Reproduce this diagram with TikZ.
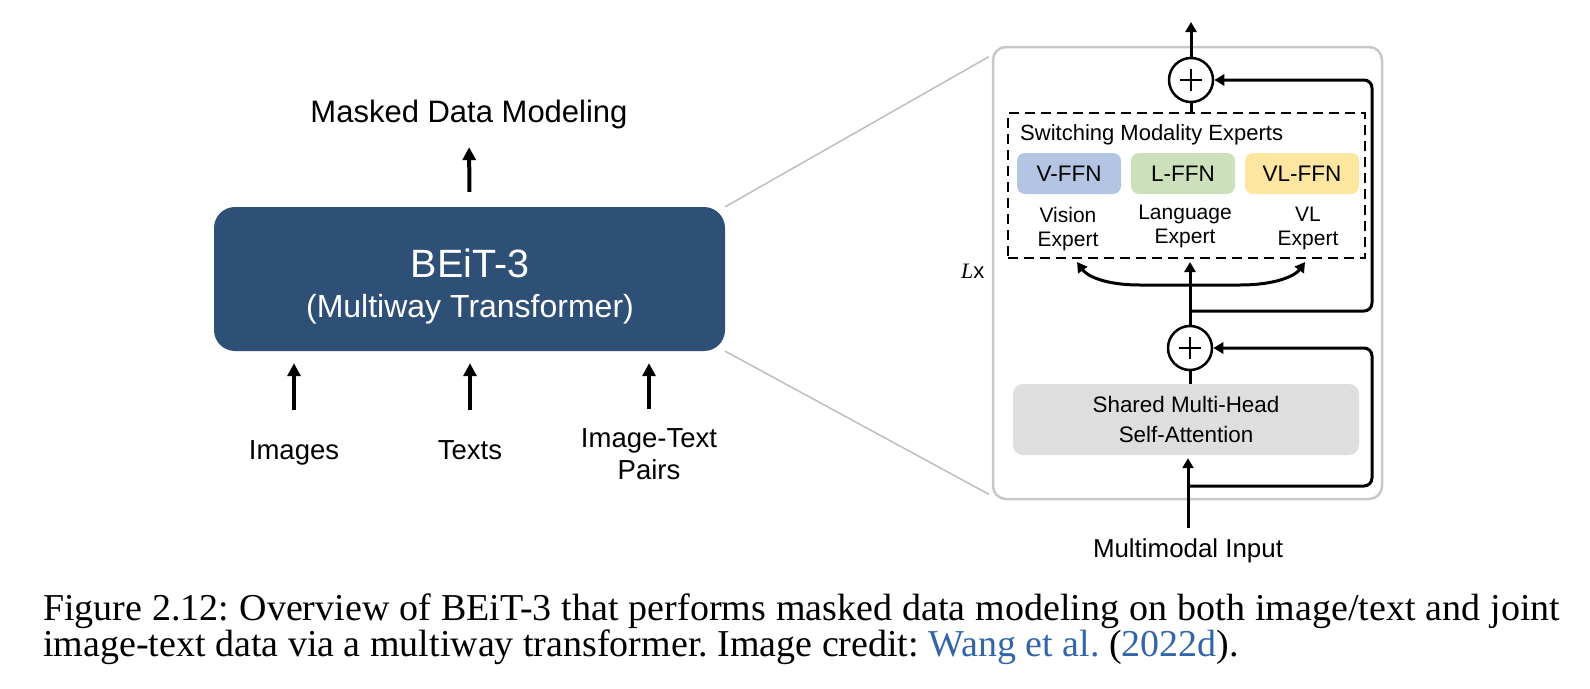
\documentclass[tikz,border=0pt]{standalone}
\usepackage{fontspec}
\setmainfont{Liberation Serif}
\newfontfamily\arialf{Liberation Sans}
\usetikzlibrary{arrows.meta,calc}
\definecolor{beitblue}{RGB}{46,79,118}
\definecolor{vffn}{RGB}{180,197,228}
\definecolor{lffn}{RGB}{204,224,187}
\definecolor{vlffn}{RGB}{253,230,160}
\definecolor{attn}{RGB}{222,222,222}
\definecolor{framegray}{RGB}{200,200,200}
\definecolor{zoomgray}{RGB}{190,190,190}
\definecolor{citeblue}{RGB}{51,102,168}
\tikzset{
  lbl/.style={inner sep=0pt, font=\arialf\fontsize{27.5}{32}\selectfont, align=center},
  leftarr/.style={line width=4pt, -{Triangle[length=13pt,width=13pt]}},
  rline/.style={line width=3pt},
  rarr/.style={line width=3pt, -{Triangle[length=10pt,width=11pt]}},
  ffnbox/.style={minimum height=41pt, rounded corners=8pt, inner sep=0pt,
     font=\arialf\fontsize{22.5}{26}\selectfont},
  explbl/.style={inner sep=0pt, anchor=north, align=center,
     font=\arialf\fontsize{21}{24}\selectfont},
  addnode/.style={circle, draw, line width=2.5pt, minimum size=44pt, inner sep=0pt,
     path picture={\draw[line width=2.5pt]
       ([xshift=-11pt]path picture bounding box.center) -- ([xshift=11pt]path picture bounding box.center)
       ([yshift=-11pt]path picture bounding box.center) -- ([yshift=11pt]path picture bounding box.center);}},
  zoomline/.style={draw=zoomgray, line width=1.5pt}
}
\begin{document}
\begin{tikzpicture}[x=1pt,y=-1pt]
\useasboundingbox (0,0) rectangle (1590,688);
\fill[white] (0,0) rectangle (1590,688);

% ---------- left panel ----------
\node[fill=beitblue, rounded corners=21pt, minimum width=511pt, minimum height=144pt, inner sep=0pt]
  (beit) at (469.5,279) {};
\node[anchor=base, inner sep=0pt, text=white, font=\arialf\fontsize{39.5}{44}\selectfont]
  (beitT) at (470,277) {BEiT-3};
\node[anchor=base, inner sep=0pt, text=white, font=\arialf\fontsize{32}{36}\selectfont]
  (beitS) at (470,317) {(Multiway Transformer)};
\node[anchor=base, inner sep=0pt, font=\arialf\fontsize{31}{36}\selectfont]
  (mdm) at (469,122) {Masked Data Modeling};

\node[lbl, anchor=base] (img) at (294,459) {Images};
\node[lbl, anchor=base] (txt) at (470,459) {Texts};
\node[lbl, anchor=north] (pair) at (649,428) {Image-Text\\Pairs};

\draw[leftarr, shorten <=15pt, shorten >=18.5pt] (beit.north) -- (mdm.south);
\draw[leftarr, shorten <=30pt, shorten >=12pt] (img.north) -- (img.north |- beit.south);
\draw[leftarr, shorten <=30pt, shorten >=12pt] (txt.north) -- (txt.north |- beit.south);
\draw[leftarr, shorten <=19pt, shorten >=12pt] (pair.north) -- (pair.north |- beit.south);

% ---------- right panel ----------
\node[draw=framegray, line width=2.5pt, rounded corners=13pt, minimum width=389pt,
  minimum height=452pt, inner sep=0pt] (frame) at (1187.5,273) {};

\draw[zoomline] (beit.north east) -- ($(frame.north west)+(-3,11)$);
\draw[zoomline] (beit.south east) -- ($(frame.south west)+(-3,-6)$);

\node[inner sep=0pt, anchor=base west, font=\fontsize{22}{24}\selectfont]
  (lx) at (961,278) {\textit{L}\arialf x};

\node[draw, dashed, dash pattern=on 10pt off 6pt, line width=2.5pt, minimum width=357pt,
  minimum height=145pt, inner sep=0pt] (dash) at (1186.5,185.5) {};
\node[anchor=base west, inner sep=0pt, font=\arialf\fontsize{22}{26}\selectfont]
  (swt) at (1020,140) {Switching Modality Experts};

\node[ffnbox, fill=vffn, minimum width=104pt] (vffn) at (1069,173.5) {V-FFN};
\node[ffnbox, fill=lffn, minimum width=104pt] (lffn) at (1183,173.5) {L-FFN};
\node[ffnbox, fill=vlffn, minimum width=114pt] (vlffn) at (1302,173.5) {VL-FFN};

\node[explbl] (vexp) at (1068,207) {Vision\\Expert};
\node[explbl] (lexp) at (1185,205) {Language\\Expert};
\node[explbl] (vlexp) at (1308,207) {VL\\Expert};

\node[addnode] (add1) at (1191,80) {};
\node[addnode] (add2) at (1190,348) {};

\node[fill=attn, rounded corners=10pt, minimum width=346pt, minimum height=71pt, inner sep=0pt,
  align=center, font=\arialf\fontsize{22.4}{30}\selectfont] (attn) at (1186,419.5)
  {Shared Multi-Head\\Self-Attention};

\node[anchor=base, inner sep=0pt, font=\arialf\fontsize{25.9}{30}\selectfont]
  (mmi) at (1188,557) {Multimodal Input};

\coordinate (outTop) at (1191,22);
\coordinate (branch) at (1190,285);
\coordinate (tipV) at (1077,262);
\coordinate (tipL) at (1190,262);
\coordinate (tipVL) at (1305,262);
\coordinate (res1) at (1190,311);
\coordinate (res2) at (1190,486);
\coordinate (rx) at (1372,0);

\draw[rarr] (add1.north) -- (outTop);
\draw[rline] (add1.south) -- (add1.south |- dash.north);
\draw[rline] (add2.south) -- (add2.south |- attn.north);
\draw[rarr] (add2.north) -- (tipL);
\draw[rarr] (branch) -- (1140,285) .. controls (1105,285) and (1087,276) .. (tipV);
\draw[rarr] (branch) -- (1240,285) .. controls (1275,285) and (1295,276) .. (tipVL);
\draw[rarr, rounded corners=8pt] (res1) -- (res1 -| rx) -- (rx |- add1) -- (add1.east);
\draw[rarr, rounded corners=8pt] (res2) -- (res2 -| rx) -- (rx |- add2) -- (add2.east);
\draw[rarr, shorten <=10pt, shorten >=3pt] (mmi.north) -- (mmi.north |- attn.south);

% ---------- caption ----------
\node[anchor=north west, inner sep=0pt, text width=1517pt, align=justify,
  font=\fontsize{38}{34.5}\selectfont] (cap) at (43,593.6)
  {\noindent\frenchspacing Figure 2.12: Overview of BEiT-3 that performs masked data modeling on both image/text and joint\linebreak
   image-text data via a multiway transformer. Image credit: \textcolor{citeblue}{Wang et al.} (\textcolor{citeblue}{2022d}).};
\end{tikzpicture}
\end{document}
